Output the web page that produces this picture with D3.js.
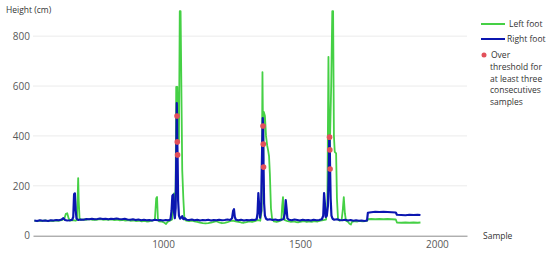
<!DOCTYPE html>
<html><head><meta charset="utf-8">
<script src="https://cdn.jsdelivr.net/npm/d3@7"></script>
<style>body{margin:0;background:#fff;}svg{display:block;font-family:"Open Sans",sans-serif;}</style>
</head><body>
<script>
const yTicks = [0, 200, 400, 600, 800];
const xTicks = [1000, 1500, 2000];
const seriesNames = ["Left foot", "Right foot"];
const legendNote = ["Over", "threshold for", "at least three", "consecutives", "samples"];

const rightFoot = [[530,61],[540,59],[550,62],[560,60],[570,61],[580,59],[590,62],[600,61],[610,63],[620,62],[630,65],[636,70],[642,63],[650,61],[660,62],[668,64],[672,75],[675,166],[678,170],[681,100],[684,68],[690,63],[700,65],[710,64],[720,67],[730,66],[740,68],[750,66],[760,67],[770,69],[780,67],[790,68],[800,66],[810,68],[820,67],[830,69],[840,67],[850,66],[860,68],[870,65],[880,64],[890,66],[900,63],[910,65],[920,62],[930,64],[940,62],[950,63],[960,61],[970,64],[980,62],[990,63],[1000,61],[1010,63],[1020,62],[1027,65],[1031,100],[1034,160],[1037,165],[1040,95],[1043,70],[1046,110],[1048,300],[1050,532],[1051,480],[1052,376],[1053,324],[1055,140],[1058,80],[1062,68],[1066,72],[1070,78],[1074,66],[1080,70],[1086,64],[1095,63],[1105,65],[1115,62],[1125,64],[1135,61],[1145,63],[1155,62],[1165,64],[1175,61],[1185,63],[1195,62],[1205,64],[1215,62],[1225,63],[1235,65],[1245,63],[1252,70],[1256,100],[1259,106],[1262,75],[1266,64],[1275,62],[1285,64],[1295,61],[1305,63],[1315,62],[1325,64],[1335,63],[1342,67],[1345,90],[1348,171],[1351,120],[1354,72],[1358,100],[1361,300],[1364,471],[1365,440],[1366,367],[1367,275],[1369,130],[1372,80],[1376,68],[1382,64],[1390,66],[1400,63],[1410,65],[1420,62],[1430,64],[1440,66],[1445,90],[1448,143],[1451,110],[1454,70],[1460,64],[1470,62],[1480,65],[1490,63],[1500,61],[1510,64],[1520,62],[1530,63],[1540,61],[1550,64],[1560,62],[1570,63],[1580,66],[1585,80],[1588,171],[1591,130],[1594,75],[1598,80],[1602,120],[1605,250],[1607,400],[1608,395],[1609,344],[1610,267],[1612,150],[1615,80],[1619,68],[1625,64],[1635,66],[1645,63],[1655,62],[1665,64],[1675,61],[1685,63],[1695,60],[1705,62],[1715,60],[1725,61],[1735,59],[1745,61],[1748,92],[1760,94],[1775,96],[1790,95],[1805,96],[1820,95],[1835,94],[1850,93],[1854,84],[1870,83],[1885,82],[1900,84],[1915,83],[1930,84],[1940,83]];

const leftFoot = [[530,60],[540,58],[550,60],[560,59],[570,61],[580,58],[590,60],[600,59],[610,61],[620,60],[630,62],[640,70],[645,88],[650,90],[655,70],[660,60],[670,62],[680,60],[685,62],[688,150],[690,231],[692,140],[695,70],[700,63],[710,65],[720,64],[730,66],[740,64],[750,65],[760,64],[770,66],[780,64],[790,65],[800,63],[810,65],[820,63],[830,64],[840,62],[850,63],[860,61],[870,62],[880,60],[890,61],[900,59],[910,60],[920,58],[930,59],[940,57],[950,58],[960,60],[970,64],[975,150],[978,155],[981,70],[985,58],[995,57],[1005,52],[1011,47],[1016,55],[1025,60],[1033,65],[1037,150],[1040,170],[1043,80],[1046,200],[1048,597],[1052,597],[1055,450],[1058,380],[1061,900],[1064,900],[1070,263],[1074,150],[1078,66],[1085,60],[1095,58],[1105,60],[1115,57],[1125,55],[1135,52],[1145,50],[1155,49],[1165,50],[1175,52],[1185,55],[1195,58],[1205,53],[1215,50],[1225,51],[1235,54],[1245,58],[1255,60],[1265,57],[1275,55],[1285,53],[1295,52],[1305,54],[1315,57],[1325,55],[1335,58],[1345,62],[1355,60],[1360,100],[1363,656],[1366,300],[1368,496],[1372,480],[1376,400],[1380,363],[1384,340],[1387,319],[1390,250],[1394,110],[1398,70],[1405,57],[1415,55],[1425,58],[1432,62],[1435,120],[1438,155],[1441,80],[1445,62],[1455,58],[1465,56],[1475,57],[1485,55],[1495,54],[1505,56],[1515,58],[1525,55],[1535,57],[1545,56],[1555,58],[1565,57],[1575,60],[1585,62],[1595,64],[1600,120],[1604,717],[1607,300],[1610,400],[1614,600],[1618,900],[1621,900],[1624,400],[1627,336],[1632,330],[1635,150],[1639,65],[1645,60],[1652,62],[1656,100],[1660,155],[1664,90],[1668,60],[1675,56],[1681,48],[1686,45],[1690,55],[1700,58],[1710,57],[1720,59],[1730,58],[1745,60],[1748,66],[1760,67],[1775,66],[1790,67],[1805,66],[1820,67],[1835,66],[1850,65],[1854,53],[1870,52],[1885,53],[1900,52],[1915,53],[1930,52],[1940,53]];

const thresholdPoints = [[1051,480],[1052,376],[1053,324],[1365,440],[1366,367],[1367,275],[1608,395],[1609,344],[1610,267]];

const W = 550, H = 255;
const svg = d3.select("body").append("svg").attr("width", W).attr("height", H);
const x = d3.scaleLinear().domain([525, 2110]).range([33, 467]);
const y = d3.scaleLinear().domain([0, 900]).range([235.7, 11.2]);

// gridlines
svg.append("g").selectAll("line").data(yTicks.filter(d => d > 0)).join("line")
  .attr("x1", x.range()[0]).attr("x2", x.range()[1])
  .attr("y1", d => y(d)).attr("y2", d => y(d))
  .attr("stroke", "#ebebeb").attr("stroke-width", 1);

// y axis labels
const yAxis = svg.append("g").attr("transform", `translate(${x.range()[0]},0)`)
  .call(d3.axisLeft(y).tickValues(yTicks).tickSize(0).tickPadding(3));
yAxis.select(".domain").remove();
yAxis.selectAll("text").attr("fill", "#595959").style("font-size", "10px").style("font-family", "Open Sans");

// x axis
const xAxis = svg.append("g").attr("transform", `translate(0,${y(0)})`)
  .call(d3.axisBottom(x).tickValues(xTicks).tickSize(0).tickPadding(5).tickFormat(d3.format("d")));
xAxis.select(".domain").attr("stroke", "#8c8c8c").attr("stroke-width", 1);
xAxis.selectAll("text").attr("fill", "#595959").style("font-size", "10px").style("font-family", "Open Sans");

const line = d3.line().x(d => x(d[0])).y(d => y(d[1]));
svg.append("path").datum(leftFoot).attr("d", line).attr("fill", "none")
  .attr("stroke", "#45d045").attr("stroke-width", 1.8).attr("stroke-linejoin", "round");
svg.append("path").datum(rightFoot).attr("d", line).attr("fill", "none")
  .attr("stroke", "#0b16b0").attr("stroke-width", 2.2).attr("stroke-linejoin", "round");

svg.append("g").selectAll("circle").data(thresholdPoints).join("circle")
  .attr("cx", d => x(d[0])).attr("cy", d => y(d[1])).attr("r", 2.8)
  .attr("fill", "#e2505a");

// axis titles
svg.append("text").attr("x", 6).attr("y", 13).text("Height (cm)")
  .attr("fill", "#333").style("font-size", "8.5px");
svg.append("text").attr("x", 483).attr("y", 239).text("Sample")
  .attr("fill", "#333").style("font-size", "8.5px");

// legend
const lg = svg.append("g");
const legColors = ["#45d045", "#0b16b0"];
seriesNames.forEach((n, i) => {
  const ly = 24 + i * 15;
  lg.append("line").attr("x1", 481).attr("x2", 505).attr("y1", ly).attr("y2", ly)
    .attr("stroke", legColors[i]).attr("stroke-width", 2);
  lg.append("text").attr("x", i === 0 ? 509 : 507).attr("y", ly + 3).text(n)
    .attr("fill", "#333").style("font-size", "8.5px");
});
lg.append("circle").attr("cx", 484).attr("cy", 55).attr("r", 2.5).attr("fill", "#e2505a");
legendNote.forEach((t, i) => {
  lg.append("text").attr("x", i === 0 ? 491 : 490).attr("y", 58 + i * 11.8).text(t)
    .attr("fill", "#333").style("font-size", "8.5px");
});
</script>
</body></html>
